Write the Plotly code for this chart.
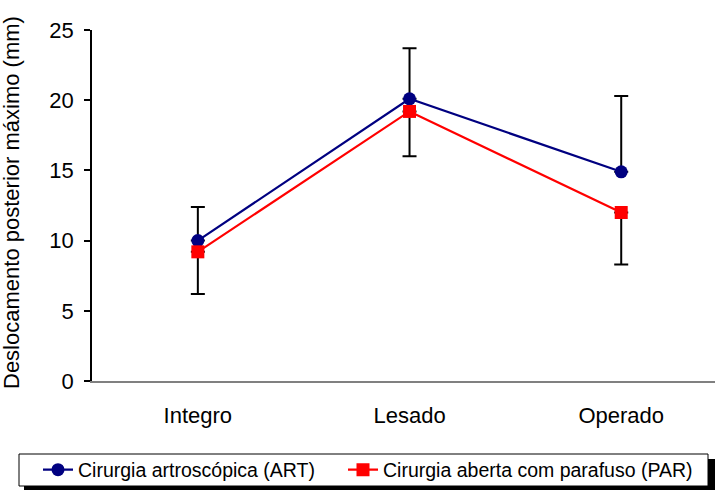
import plotly.graph_objects as go

categories = ["Integro", "Lesado", "Operado"]
art_values = [10.0, 20.1, 14.9]
par_values = [9.2, 19.2, 12.0]
art_err_plus = [2.4, 3.6, 5.4]
par_err_minus = [3.0, 3.2, 3.7]
y_ticks = [0, 5, 10, 15, 20, 25]
y_title = "Deslocamento posterior máximo (mm)"

FONT = "Liberation Sans, Arial, sans-serif"
W, H = 715, 490
PL, PR, PT, PB = 92, 715, 30, 381  # plot area in pixels
L, R, T, B = PL, W - PR, PT, H - PB
pw, ph = PR - PL, PB - PT

def px(x):
    return (x - PL) / pw

def py(y):
    return (PB - y) / ph

fig = go.Figure()
fig.add_trace(go.Scatter(
    x=categories, y=art_values, mode="lines+markers",
    name="Cirurgia artroscópica (ART)", legend="legend",
    line=dict(color="#000080", width=2.2),
    marker=dict(symbol="circle", size=13, color="#000080"),
    error_y=dict(type="data", symmetric=False, array=art_err_plus,
                 arrayminus=[0, 0, 0], color="black", thickness=2, width=7),
))
fig.add_trace(go.Scatter(
    x=categories, y=par_values, mode="lines+markers",
    name="Cirurgia aberta com parafuso (PAR)", legend="legend2",
    line=dict(color="#FF0000", width=2.2),
    marker=dict(symbol="square", size=13, color="#FF0000"),
    error_y=dict(type="data", symmetric=False, array=[0, 0, 0],
                 arrayminus=par_err_minus, color="black", thickness=2, width=7),
))

# legend shadow and box
fig.add_shape(type="rect", xref="paper", yref="paper",
              x0=px(24), x1=px(715), y0=py(492), y1=py(459),
              fillcolor="black", line=dict(width=0), layer="above")
fig.add_shape(type="rect", xref="paper", yref="paper",
              x0=px(19), x1=px(708), y0=py(486), y1=py(454),
              fillcolor="white", line=dict(color="black", width=1), layer="above")

# y-axis title as rotated annotation
fig.add_annotation(text=y_title, textangle=-90, xref="paper", yref="paper",
                   x=px(12), y=py(203), xanchor="center", yanchor="middle",
                   showarrow=False, font=dict(family=FONT, size=22, color="black"))

leg_common = dict(orientation="h", xanchor="left", yanchor="middle",
                  bgcolor="rgba(0,0,0,0)", borderwidth=0,
                  font=dict(family=FONT, size=19.5, color="black"))

fig.update_layout(
    width=W, height=H,
    margin=dict(l=L, r=R, t=T, b=B, autoexpand=False),
    paper_bgcolor="white", plot_bgcolor="white",
    font=dict(family=FONT, size=22, color="black"),
    showlegend=True,
    legend=dict(x=px(38), y=py(470), **leg_common),
    legend2=dict(x=px(343), y=py(470), **leg_common),
    xaxis=dict(range=[-0.5, 2.443], showgrid=False, zeroline=False,
               showline=True, linecolor="#808080", linewidth=2,
               ticks="", ticklabelstandoff=14,
               tickfont=dict(family=FONT, size=22)),
    yaxis=dict(range=[0, 25], tickvals=y_ticks, showgrid=False, zeroline=False,
               showline=True, linecolor="black", linewidth=1.5,
               ticks="outside", ticklen=6, tickcolor="black", tickwidth=1.5,
               ticklabelstandoff=6,
               tickfont=dict(family=FONT, size=22)),
)

fig.write_html("out.html", config={"displayModeBar": False},
               post_script="document.body.style.margin='0px';document.body.style.overflow='hidden';")
